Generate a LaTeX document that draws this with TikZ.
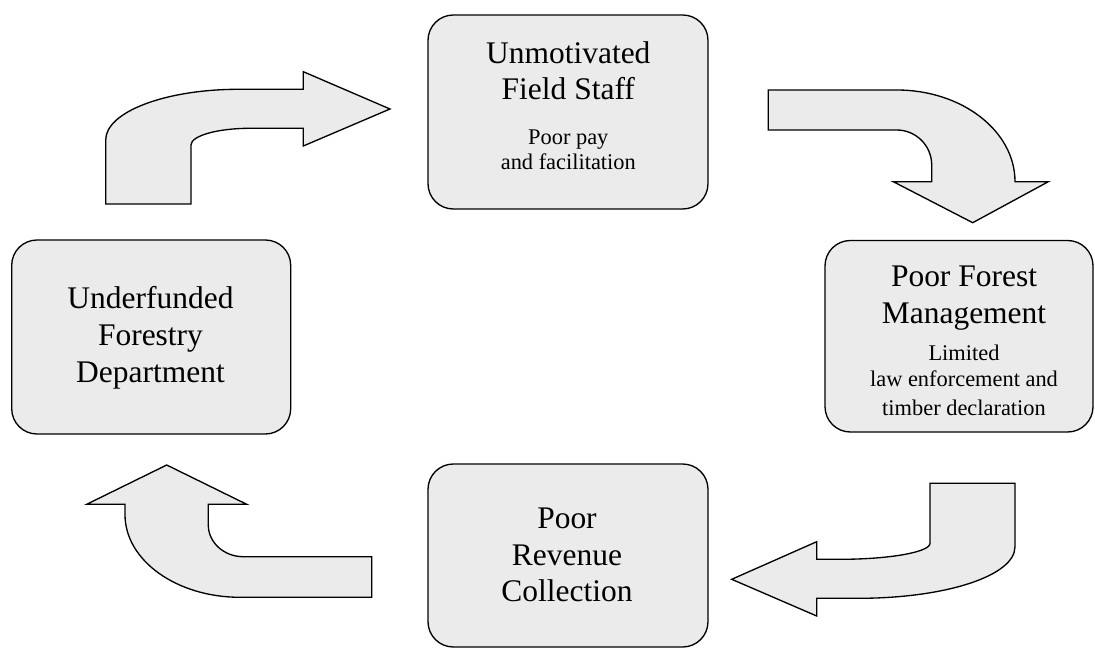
\documentclass[tikz,border=0pt]{standalone}
\usepackage{fontspec}
\setmainfont{Liberation Serif}
\definecolor{panel}{RGB}{235,235,235}
\tikzset{
  box/.style={draw=black, fill=panel, line width=1pt, rounded corners=19pt,
              inner sep=0pt, outer sep=0pt},
  bent/.style={draw=black, fill=panel, line width=1pt, line join=miter},
  title/.style={anchor=base, inner sep=0pt, font=\fontsize{23.6}{28}\selectfont},
  note/.style={anchor=base, inner sep=0pt, font=\fontsize{16.8}{20}\selectfont}
}
\begin{document}
\begin{tikzpicture}[x=0.75pt, y=-0.75pt]
\useasboundingbox (0,0) rectangle (1095,648);

% the four stages of the cycle
\node[box, minimum width={280*0.75pt}, minimum height={194*0.75pt}] (staff) at (568,112) {};
\node[box, minimum width={268*0.75pt}, minimum height={191.5*0.75pt}] (mgmt) at (959,336.25) {};
\node[box, minimum width={280*0.75pt}, minimum height={183*0.75pt}] (revenue) at (568,555.5) {};
\node[box, minimum width={279*0.75pt}, minimum height={194*0.75pt}] (dept) at (151.2,337) {};

% texts
\node[title] (staffA) at (568.3,63.3) {Unmotivated};
\node[title] (staffB) at (568.3,100) {Field Staff};
\node[note]  (staffC) at (568.3,145) {Poor pay};
\node[note]  (staffD) at (568.3,170) {and facilitation};

\node[title] (mgmtA) at (964,286.7) {Poor Forest};
\node[title] (mgmtB) at (964,324) {Management};
\node[note]  (mgmtC) at (964,360.7) {Limited};
\node[note]  (mgmtD) at (964,386.7) {law enforcement and};
\node[note]  (mgmtE) at (964,415) {timber declaration};

\node[title] (revA) at (567,528.3) {Poor};
\node[title] (revB) at (567,565) {Revenue};
\node[title] (revC) at (567,601.7) {Collection};

\node[title] (deptA) at (150.5,309) {Underfunded};
\node[title] (deptB) at (150.5,345) {Forestry};
\node[title] (deptC) at (150.5,382.7) {Department};

% bent block arrows between the stages
% up from the department, then right to the field staff
\draw[bent] (105.7,204) -- (105.7,140)
  .. controls (105.7,112) and (165.1,89.3) .. (238.6,89.3)
  -- (303.3,89.3) -- (303.3,71.7) -- (390,109) -- (303.3,146) -- (303.3,128.3)
  -- (250,128.3) .. controls (217.4,128.3) and (191,135.8) .. (191,145)
  -- (191,204) -- cycle;

% right from the field staff, then down to management
\draw[bent] (768.3,90) -- (896.7,90)
  .. controls (962,90) and (1015,131) .. (1015,181.7)
  -- (1048.3,181.7) -- (972.7,222.7) -- (893.3,181.7) -- (931.7,181.7)
  -- (931.7,165) .. controls (931.7,145.7) and (916,130) .. (896.7,130)
  -- (768.3,130) -- cycle;

% down from management, then left to revenue collection
\draw[bent] (930,483.3) -- (1015,483.3) -- (1015,546.7)
  .. controls (1015,576.1) and (944.9,598.3) .. (858.4,598.3)
  -- (816.7,598.3) -- (816.7,616) -- (731.7,579.3) -- (816.7,541.7) -- (816.7,559.3)
  -- (840,559.3) .. controls (889.7,559.3) and (930,552.1) .. (930,543.3)
  -- cycle;

% left from revenue collection, then up to the department
\draw[bent] (371.7,556.7) -- (243.3,556.7)
  .. controls (224,556.7) and (208.3,542.5) .. (208.3,525)
  -- (208.3,504.3) -- (246.7,504.3) -- (166.7,465) -- (86.7,504.3) -- (125,504.3)
  -- (125,514.7) .. controls (125,560.3) and (176.5,597.3) .. (240,597.3)
  -- (371.7,597.3) -- cycle;
\end{tikzpicture}
\end{document}
